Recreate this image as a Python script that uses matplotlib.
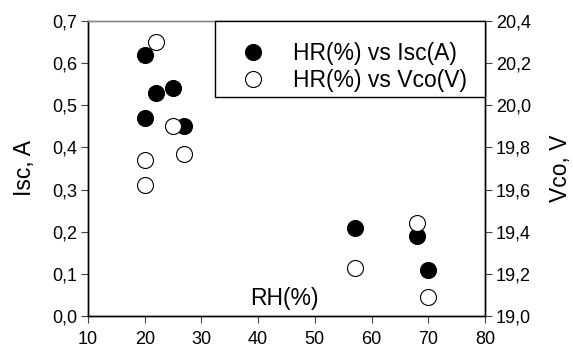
import matplotlib
matplotlib.use("Agg")
import matplotlib.pyplot as plt
from matplotlib.patches import Rectangle
from matplotlib.ticker import FuncFormatter

plt.rcParams['font.family'] = ['Liberation Sans', 'DejaVu Sans']

# Relative humidity (%) and measured short-circuit current / open-circuit voltage
rh_isc = [20, 20, 22, 25, 27, 57, 68, 70]
isc = [0.62, 0.47, 0.53, 0.54, 0.45, 0.21, 0.19, 0.11]

rh_vco = [22, 20, 20, 25, 27, 57, 68, 70]
vco = [20.30, 19.74, 19.62, 19.90, 19.77, 19.23, 19.44, 19.09]

x_ticks = [10, 20, 30, 40, 50, 60, 70, 80]
isc_ticks = [0.0, 0.1, 0.2, 0.3, 0.4, 0.5, 0.6, 0.7]
vco_ticks = [19.0, 19.2, 19.4, 19.6, 19.8, 20.0, 20.2, 20.4]

W, H = 573, 352
fig = plt.figure(figsize=(W / 100, H / 100), dpi=100)
left, right, top, bottom = 88, 485, 21, 316
ax = fig.add_axes([left / W, 1 - bottom / H, (right - left) / W, (bottom - top) / H])
ax2 = ax.twinx()

ms = 11.5
ax.plot(rh_isc, isc, 'o', color='black', markersize=ms, markeredgewidth=0.8,
        linestyle='none', label='HR(%) vs Isc(A)')
ax2.plot(rh_vco, vco, 'o', markerfacecolor='white', markeredgecolor='black',
         markersize=ms, markeredgewidth=0.8, linestyle='none', label='HR(%) vs Vco(V)')

ax.set_xlim(10, 80)
ax.set_ylim(0, 0.7)
ax2.set_ylim(19.0, 20.4)
ax.set_xticks(x_ticks)
ax.set_yticks(isc_ticks)
ax2.set_yticks(vco_ticks)

comma1 = FuncFormatter(lambda v, p: f"{v:.1f}".replace('.', ','))
ax.yaxis.set_major_formatter(comma1)
ax2.yaxis.set_major_formatter(comma1)

tick_fs = 13
for a in (ax, ax2):
    a.tick_params(direction='out', length=5, width=0.8, color='#444444',
                  labelsize=tick_fs, pad=3)
    for s in a.spines.values():
        s.set_linewidth(1.0)
    a.spines['top'].set_color('#888888')
ax.tick_params(axis='x', pad=6)

ax.set_ylabel('Isc, A', fontsize=16.5, va='center')
ax.yaxis.set_label_coords(-0.159, 0.5)
ax2.set_ylabel('Vco, V', fontsize=16.5, va='center', rotation=90)
ax2.yaxis.set_label_coords(1.189, 0.5)

ax.set_xlabel('RH(%)', fontsize=16.5)
ax.xaxis.set_label_coords(0.495, 0.06)
ax.xaxis.label.set_va('center')

# Legend: framed box in the upper-right corner of the plot
box = Rectangle((0.320, 0.742), 0.680, 0.258, transform=ax2.transAxes,
                facecolor='white', edgecolor='black', linewidth=1.0,
                clip_on=False, zorder=4)
ax2.add_patch(box)

h1, l1 = ax.get_legend_handles_labels()
h2, l2 = ax2.get_legend_handles_labels()
leg = ax2.legend(h1 + h2, l1 + l2, loc='center left', bbox_to_anchor=(0.370, 0.844),
                 fontsize=16.5, frameon=False, borderaxespad=0, borderpad=0,
                 handletextpad=0.95, labelspacing=0.2, handlelength=1.6)
leg.set_zorder(5)

fig.savefig('out.png', dpi=100)
